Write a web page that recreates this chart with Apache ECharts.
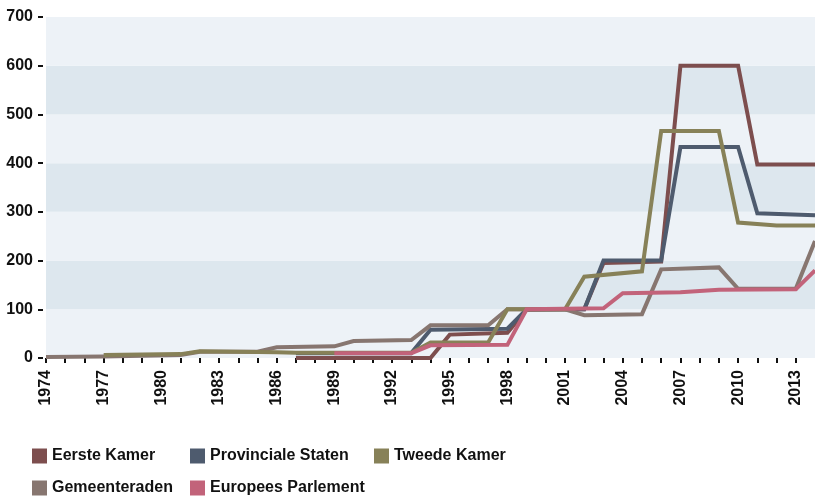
<!DOCTYPE html>
<html>
<head>
<meta charset="utf-8">
<script src="https://cdn.jsdelivr.net/npm/echarts@6/dist/echarts.min.js"></script>
<style>html,body{margin:0;padding:0;background:#fff}#c{width:815px;height:499px}</style>
</head>
<body>
<div id="c"></div>
<script>
const seriesNames = ['Eerste Kamer', 'Provinciale Staten', 'Tweede Kamer', 'Gemeenteraden', 'Europees Parlement'];
const seriesColors = ['#7d4e4e', '#4e5b6e', '#878158', '#877670', '#c2637a'];
const yTicks = [0, 100, 200, 300, 400, 500, 600, 700];
const xLabelYears = [1974, 1977, 1980, 1983, 1986, 1989, 1992, 1995, 1998, 2001, 2004, 2007, 2010, 2013];

const eersteKamer = [[1987,0],[1994,0],[1995,48],[1998,52],[1999,99],[2002,100],[2003,195],[2006,198],[2007,600],[2010,600],[2011,397],[2014,397]];
const provincialeStaten = [[1987,10],[1993,10],[1994,58],[1998,60],[1999,100],[2002,100],[2003,200],[2006,200],[2007,433],[2010,433],[2011,297],[2014,293]];
const tweedeKamer = [[1977,6],[1981,8],[1982,14],[1986,12],[1987,11],[1993,11],[1994,32],[1997,32],[1998,100],[2001,100],[2002,167],[2005,178],[2006,466],[2009,466],[2010,278],[2012,272],[2014,272]];
const gemeenteraden = [[1974,2],[1977,3],[1981,6],[1982,13],[1985,13],[1986,22],[1989,24],[1990,35],[1993,37],[1994,67],[1997,67],[1998,100],[2001,100],[2002,88],[2005,90],[2006,182],[2009,186],[2010,142],[2013,142],[2014,240]];
const europeesParlement = [[1989,10],[1993,10],[1994,26],[1998,27],[1999,100],[2003,102],[2004,133],[2007,135],[2009,140],[2013,141],[2014,180]];

const seriesData = [eersteKamer, provincialeStaten, tweedeKamer, gemeenteraden, europeesParlement];
const zOrder = [2, 2, 4, 3, 5];

const FONT = "'Liberation Sans', Arial, sans-serif";

const chart = echarts.init(document.getElementById('c'));
const legendPos = [[32, 448], [190, 448], [374, 448], [32, 480], [190, 480]];

chart.setOption({
  animation: false,
  backgroundColor: '#ffffff',
  grid: { left: 46, right: 0, top: 17, bottom: 141, containLabel: false, outerBoundsMode: 'none' },
  legend: seriesNames.map((n, i) => ({
    data: [n], left: legendPos[i][0], top: legendPos[i][1],
    icon: 'rect', itemWidth: 15, itemHeight: 15, padding: 0,
    textStyle: { fontFamily: FONT, fontWeight: 'bold', fontSize: 16, color: '#111' }
  })),
  xAxis: {
    type: 'value', min: 1974, max: 2014, interval: 1, offset: 4,
    axisLine: { show: false },
    axisTick: { show: true, length: 5, lineStyle: { color: '#111', width: 2 } },
    splitLine: { show: false },
    axisLabel: {
      rotate: 90, margin: 8, fontFamily: FONT, fontWeight: 'bold', fontSize: 16, color: '#111',
      formatter: v => xLabelYears.indexOf(v) >= 0 ? String(v) : '',
      showMinLabel: true, showMaxLabel: false
    }
  },
  yAxis: {
    type: 'value', min: 0, max: 700, interval: 100, offset: 3,
    axisLine: { show: false },
    axisTick: { show: true, length: 5, lineStyle: { color: '#111', width: 2 } },
    splitLine: { show: false },
    splitArea: { show: true, areaStyle: { color: ['#edf2f7', '#dde7ee'] } },
    axisLabel: {
      margin: 10, fontFamily: FONT, fontWeight: 'bold', fontSize: 16, color: '#111',
      formatter: v => yTicks.indexOf(v) >= 0 ? String(v) : ''
    }
  },
  series: seriesNames.map((n, i) => ({
    name: n, type: 'line', data: seriesData[i], z: zOrder[i],
    symbol: 'none', clip: false,
    lineStyle: { color: seriesColors[i], width: 4, join: 'miter' },
    itemStyle: { color: seriesColors[i] }
  }))
});
</script>
</body>
</html>
